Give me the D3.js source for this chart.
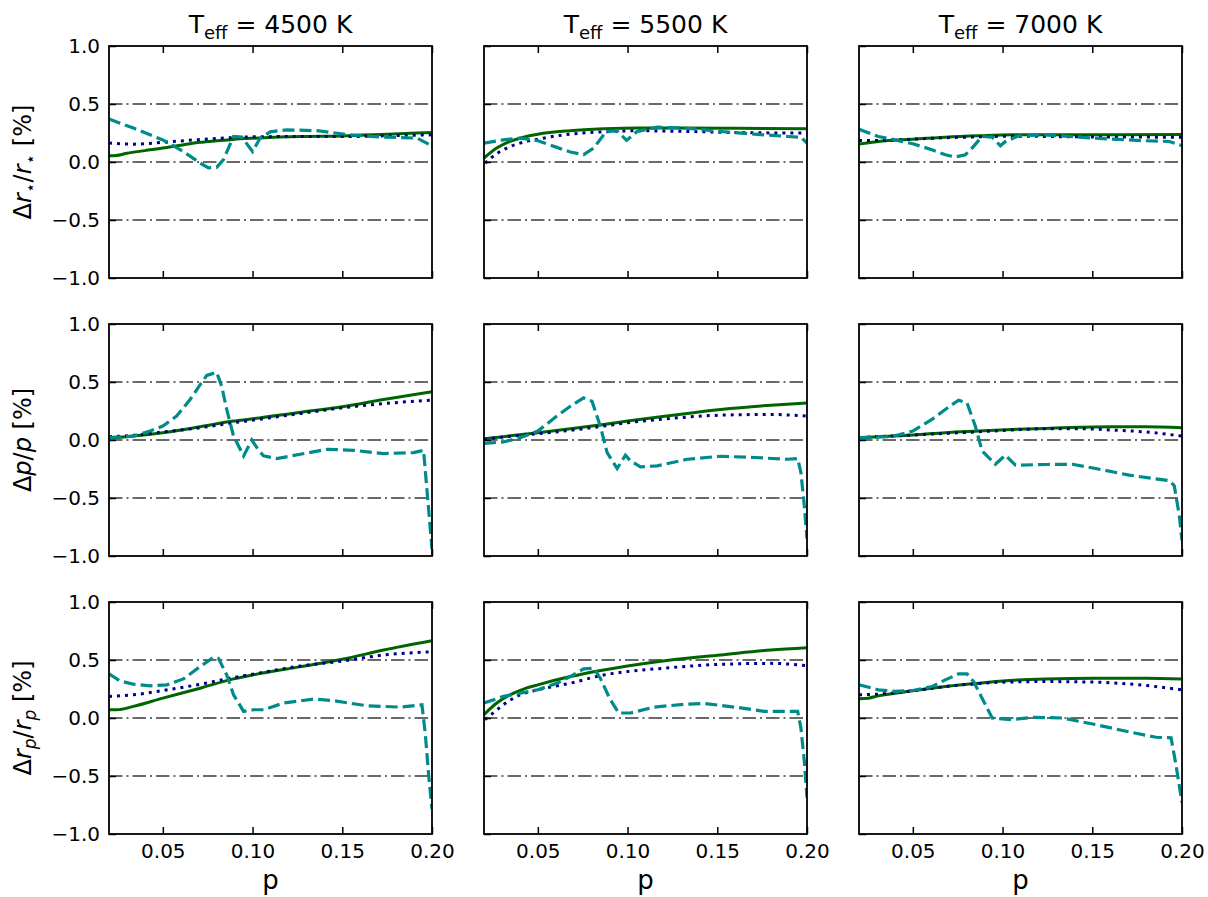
<!DOCTYPE html>
<html>
<head>
<meta charset="utf-8">
<script src="https://cdn.jsdelivr.net/npm/d3@7"></script>
<style>
body { margin: 0; background: #fff; }
text { font-family: "DejaVu Sans", sans-serif; fill: #000; }
</style>
</head>
<body>
<svg id="chart" width="1208" height="897"></svg>
<script>

// Column headings / ticks
var temps = [4500, 5500, 7000];
var xTicks = [0.05, 0.10, 0.15, 0.20];
var yTicks = [-1.0, -0.5, 0.0, 0.5, 1.0];
var refLines = [-0.5, 0.0, 0.5];

// Row 0 : Δr*/r*
var rs4500_solid = [[0.02,0.054],[0.024,0.056],[0.03,0.075],[0.04,0.098],[0.05,0.12],[0.06,0.145],[0.071,0.17],[0.08,0.183],[0.089,0.195],[0.10,0.205],[0.115,0.215],[0.127,0.22],[0.15,0.225],[0.175,0.24],[0.20,0.254]];
var rs4500_dot   = [[0.02,0.163],[0.034,0.154],[0.05,0.17],[0.071,0.194],[0.089,0.21],[0.10,0.217],[0.127,0.22],[0.154,0.22],[0.182,0.229],[0.20,0.234]];
var rs4500_dash  = [[0.02,0.371],[0.034,0.29],[0.05,0.19],[0.0615,0.09],[0.0708,-0.01],[0.0754,-0.05],[0.080,-0.046],[0.0838,0.02],[0.0894,0.22],[0.094,0.215],[0.10,0.09],[0.104,0.2],[0.1098,0.26],[0.119,0.277],[0.1358,0.27],[0.1544,0.234],[0.173,0.214],[0.1916,0.206],[0.20,0.14]];

var rs5500_solid = [[0.02,0.034],[0.0271,0.12],[0.0345,0.177],[0.042,0.214],[0.05,0.24],[0.068,0.27],[0.0867,0.286],[0.1053,0.294],[0.124,0.294],[0.161,0.29],[0.20,0.286]];
var rs5500_dot   = [[0.0206,-0.01],[0.0243,0.04],[0.0308,0.106],[0.0401,0.163],[0.05,0.197],[0.068,0.24],[0.0867,0.26],[0.1053,0.269],[0.124,0.266],[0.161,0.254],[0.20,0.249]];
var rs5500_dash  = [[0.02,0.163],[0.0308,0.19],[0.0401,0.206],[0.05,0.183],[0.0606,0.126],[0.0681,0.086],[0.0755,0.063],[0.0811,0.12],[0.088,0.26],[0.094,0.27],[0.0995,0.186],[0.1053,0.263],[0.1165,0.30],[0.1333,0.291],[0.1519,0.263],[0.1706,0.24],[0.1892,0.22],[0.1966,0.214],[0.20,0.163]];

var rs7000_solid = [[0.02,0.154],[0.0308,0.177],[0.05,0.197],[0.068,0.214],[0.0867,0.226],[0.1053,0.234],[0.1426,0.234],[0.20,0.237]];
var rs7000_dot   = [[0.02,0.186],[0.0308,0.186],[0.05,0.197],[0.068,0.209],[0.0867,0.217],[0.1053,0.223],[0.1426,0.217],[0.20,0.214]];
var rs7000_dash  = [[0.02,0.283],[0.0308,0.22],[0.0401,0.191],[0.05,0.157],[0.0606,0.106],[0.0681,0.063],[0.0737,0.043],[0.0793,0.063],[0.083,0.12],[0.0886,0.22],[0.0942,0.214],[0.0988,0.14],[0.1016,0.177],[0.109,0.226],[0.124,0.234],[0.1426,0.214],[0.1612,0.197],[0.1799,0.183],[0.193,0.177],[0.20,0.14]];

// Row 1 : Δp/p
var p4500_solid = [[0.02,0.017],[0.0336,0.034],[0.05,0.063],[0.0708,0.114],[0.0894,0.163],[0.10,0.183],[0.127,0.24],[0.15,0.286],[0.173,0.349],[0.20,0.417]];
var p4500_dot   = [[0.02,0.029],[0.0336,0.04],[0.05,0.069],[0.0708,0.106],[0.0894,0.149],[0.10,0.171],[0.127,0.229],[0.15,0.277],[0.173,0.314],[0.20,0.343]];
var p4500_dash  = [[0.02,0.02],[0.0336,0.034],[0.0429,0.077],[0.05,0.12],[0.0577,0.206],[0.0652,0.349],[0.0708,0.477],[0.0745,0.557],[0.080,0.583],[0.0828,0.463],[0.0856,0.263],[0.0894,0.034],[0.095,-0.137],[0.0996,0.0],[0.1024,-0.066],[0.1061,-0.137],[0.1135,-0.16],[0.1266,-0.123],[0.1414,-0.08],[0.1563,-0.089],[0.173,-0.117],[0.1897,-0.109],[0.1953,-0.089],[0.20,-0.94]];

var p5500_solid = [[0.02,0.011],[0.0308,0.029],[0.05,0.063],[0.0681,0.097],[0.0867,0.134],[0.10,0.163],[0.124,0.211],[0.1519,0.263],[0.1799,0.30],[0.20,0.32]];
var p5500_dot   = [[0.02,0.006],[0.0308,0.026],[0.05,0.054],[0.0681,0.083],[0.0867,0.12],[0.10,0.149],[0.124,0.186],[0.1519,0.214],[0.1799,0.22],[0.20,0.206]];
var p5500_dash  = [[0.02,-0.029],[0.0308,-0.017],[0.0401,0.02],[0.05,0.077],[0.0606,0.206],[0.0681,0.291],[0.0755,0.363],[0.0802,0.334],[0.0848,0.12],[0.0886,-0.109],[0.0942,-0.246],[0.0988,-0.131],[0.1016,-0.18],[0.1072,-0.231],[0.1165,-0.223],[0.1333,-0.166],[0.1519,-0.14],[0.1706,-0.151],[0.1892,-0.166],[0.1948,-0.16],[0.1966,-0.28],[0.1985,-0.566],[0.20,-0.851]];

var p7000_solid = [[0.02,0.02],[0.0308,0.029],[0.05,0.043],[0.0681,0.063],[0.0867,0.077],[0.1053,0.091],[0.124,0.1],[0.1426,0.109],[0.1612,0.114],[0.1799,0.114],[0.20,0.106]];
var p7000_dot   = [[0.02,0.02],[0.0308,0.029],[0.05,0.043],[0.0681,0.057],[0.0867,0.071],[0.1053,0.086],[0.124,0.097],[0.1426,0.097],[0.1612,0.086],[0.1799,0.069],[0.20,0.034]];
var p7000_dash  = [[0.02,0.02],[0.0383,0.029],[0.05,0.077],[0.0606,0.177],[0.0681,0.263],[0.0755,0.343],[0.0802,0.32],[0.0848,0.12],[0.0886,-0.094],[0.096,-0.209],[0.1016,-0.131],[0.1072,-0.217],[0.124,-0.211],[0.1389,-0.209],[0.1519,-0.246],[0.1706,-0.303],[0.193,-0.351],[0.1957,-0.394],[0.1985,-0.651],[0.20,-0.866]];

// Row 2 : Δrp/rp
var rp4500_solid = [[0.02,0.071],[0.0243,0.071],[0.0336,0.1],[0.05,0.171],[0.0708,0.257],[0.0894,0.337],[0.10,0.371],[0.127,0.443],[0.15,0.506],[0.173,0.586],[0.20,0.666]];
var rp4500_dot   = [[0.02,0.186],[0.0336,0.2],[0.05,0.237],[0.0708,0.291],[0.0894,0.349],[0.10,0.377],[0.127,0.449],[0.15,0.491],[0.173,0.543],[0.20,0.571]];
var rp4500_dash  = [[0.02,0.38],[0.0261,0.32],[0.0336,0.291],[0.0429,0.277],[0.0522,0.286],[0.0615,0.337],[0.0708,0.443],[0.0782,0.523],[0.081,0.514],[0.0856,0.371],[0.0894,0.2],[0.095,0.057],[0.1005,0.071],[0.1061,0.071],[0.1173,0.129],[0.134,0.163],[0.1451,0.149],[0.1637,0.106],[0.1823,0.094],[0.1944,0.114],[0.1963,-0.143],[0.1981,-0.486],[0.20,-0.786]];

var rp5500_solid = [[0.02,0.029],[0.0271,0.129],[0.0345,0.2],[0.042,0.249],[0.05,0.286],[0.0681,0.357],[0.0867,0.414],[0.10,0.449],[0.124,0.5],[0.1519,0.543],[0.1799,0.586],[0.20,0.606]];
var rp5500_dot   = [[0.0206,-0.014],[0.0243,0.034],[0.0308,0.114],[0.0401,0.2],[0.05,0.243],[0.0681,0.3],[0.0867,0.371],[0.10,0.4],[0.124,0.434],[0.1519,0.463],[0.1799,0.471],[0.20,0.451]];
var rp5500_dash  = [[0.02,0.129],[0.0308,0.186],[0.0401,0.214],[0.05,0.243],[0.0606,0.3],[0.0681,0.357],[0.0755,0.423],[0.0811,0.429],[0.0848,0.343],[0.0904,0.157],[0.0951,0.043],[0.1016,0.043],[0.1147,0.094],[0.1333,0.12],[0.1426,0.126],[0.1612,0.091],[0.1761,0.057],[0.1948,0.057],[0.1966,-0.086],[0.1985,-0.371],[0.20,-0.686]];

var rp7000_solid = [[0.02,0.166],[0.0252,0.171],[0.0308,0.191],[0.05,0.234],[0.0681,0.271],[0.0867,0.3],[0.10,0.32],[0.124,0.337],[0.1519,0.343],[0.1799,0.343],[0.20,0.337]];
var rp7000_dot   = [[0.02,0.2],[0.0308,0.206],[0.05,0.234],[0.0681,0.271],[0.0867,0.297],[0.10,0.309],[0.124,0.314],[0.1519,0.309],[0.1799,0.28],[0.20,0.243]];
var rp7000_dash  = [[0.02,0.286],[0.0308,0.243],[0.0401,0.229],[0.05,0.237],[0.0606,0.271],[0.0681,0.329],[0.0755,0.38],[0.0802,0.38],[0.0839,0.314],[0.0886,0.171],[0.0942,0.0],[0.1053,-0.014],[0.1165,0.006],[0.1333,0.0],[0.1519,-0.057],[0.1706,-0.12],[0.1855,-0.166],[0.1939,-0.171],[0.1966,-0.4],[0.20,-0.729]];

// Grid of panels, row by row
var grid = [
    [[rs4500_solid, rs4500_dot, rs4500_dash], [rs5500_solid, rs5500_dot, rs5500_dash], [rs7000_solid, rs7000_dot, rs7000_dash]],
    [[p4500_solid, p4500_dot, p4500_dash], [p5500_solid, p5500_dot, p5500_dash], [p7000_solid, p7000_dot, p7000_dash]],
    [[rp4500_solid, rp4500_dot, rp4500_dash], [rp5500_solid, rp5500_dot, rp5500_dash], [rp7000_solid, rp7000_dot, rp7000_dash]]
];

// y-labels: pieces of text (i = italic, s = subscript)
var yLabels = [
    [{t:"Δ"},{t:"r",i:1},{t:"⋆",s:1},{t:"/"},{t:"r",i:1},{t:"⋆",s:1},{t:" [%]"}],
    [{t:"Δ"},{t:"p",i:1},{t:"/"},{t:"p",i:1},{t:" [%]"}],
    [{t:"Δ"},{t:"r",i:1},{t:"p",i:1,s:1},{t:"/"},{t:"r",i:1},{t:"p",i:1,s:1},{t:" [%]"}]
];

var W = 323, H = 232;
var x0 = 109, dxCol = 375;
var y0 = 46, dyRow = 278;

var svg = d3.select("#chart");
svg.append("rect").attr("width", 1208).attr("height", 897).attr("fill", "#fff");

var fmtY = function(d){ return d3.format(".1f")(d).replace("-", "\u2212"); };
var fmtX = d3.format(".2f");

var styles = [
    {color: "#006400", width: 3,   dash: null,   curve: d3.curveMonotoneX},
    {color: "#00008b", width: 3,   dash: "3,5",  curve: d3.curveMonotoneX},
    {color: "#008b8b", width: 3.2, dash: "12,5", curve: d3.curveLinear}
];

grid.forEach(function(row, r){
    row.forEach(function(series, c){
        var left = x0 + c*dxCol, top = y0 + r*dyRow;
        var x = d3.scaleLinear().domain([0.02, 0.20]).range([0, W]);
        var y = d3.scaleLinear().domain([-1, 1]).range([H, 0]);

        var g = svg.append("g").attr("transform", "translate(" + left + "," + top + ")");
        var clipId = "clip" + r + c;
        g.append("clipPath").attr("id", clipId)
            .append("rect").attr("width", W).attr("height", H);

        var plot = g.append("g").attr("clip-path", "url(#" + clipId + ")");

        // reference dash-dot lines
        plot.selectAll("line.ref").data(refLines).enter().append("line")
            .attr("x1", 0).attr("x2", W)
            .attr("y1", function(d){ return y(d); })
            .attr("y2", function(d){ return y(d); })
            .attr("stroke", "#6a6a6a")
            .attr("stroke-width", 1.8)
            .attr("stroke-dasharray", "13.5,4,2,4");

        // the three curves
        series.forEach(function(pts, k){
            var st = styles[k];
            var line = d3.line()
                .x(function(d){ return x(d[0]); })
                .y(function(d){ return y(d[1]); })
                .curve(st.curve);
            plot.append("path")
                .attr("d", line(pts))
                .attr("fill", "none")
                .attr("stroke", st.color)
                .attr("stroke-width", st.width)
                .attr("stroke-dasharray", st.dash);
        });

        // axes, ticks pointing in
        var bottom = d3.axisBottom(x).tickValues(xTicks).tickSizeInner(-7).tickSizeOuter(0).tickPadding(10)
            .tickFormat(r === 2 ? fmtX : function(){ return ""; });
        var topAx = d3.axisTop(x).tickValues(xTicks).tickSizeInner(-7).tickSizeOuter(0).tickFormat(function(){ return ""; });
        var leftAx = d3.axisLeft(y).tickValues(yTicks).tickSizeInner(-7).tickSizeOuter(0).tickPadding(9)
            .tickFormat(c === 0 ? fmtY : function(){ return ""; });

        [[bottom, "translate(0," + H + ")"], [topAx, null], [leftAx, null]].forEach(function(a){
            var ag = g.append("g").attr("transform", a[1]).call(a[0]);
            ag.attr("font-size", 20).attr("font-family", "DejaVu Sans");
            ag.select(".domain").remove();
            ag.selectAll(".tick line").attr("stroke", "#000").attr("stroke-width", 1.5);
        });

        // frame
        g.append("rect").attr("width", W).attr("height", H)
            .attr("fill", "none").attr("stroke", "#000").attr("stroke-width", 1.8);

        // column title
        if(r === 0){
            var t = g.append("text").attr("x", W/2).attr("y", -13)
                .attr("text-anchor", "middle").attr("font-size", 25);
            t.append("tspan").text("T");
            t.append("tspan").attr("dy", 6).attr("font-size", 18).text("eff");
            t.append("tspan").attr("dy", -6).text(" = " + temps[c] + " K");
        }

        // x label
        if(r === 2){
            g.append("text").attr("x", W/2).attr("y", H + 55)
                .attr("text-anchor", "middle").attr("font-size", 26).text("p");
        }

        // y label
        if(c === 0){
            var yl = svg.append("text")
                .attr("transform", "translate(31," + (top + H/2) + ") rotate(-90)")
                .attr("text-anchor", "middle").attr("font-size", 24);
            var shift = 0;
            yLabels[r].forEach(function(p){
                var ts = yl.append("tspan").text(p.t);
                if(p.i) ts.attr("font-style", "italic");
                if(p.s && !shift){ ts.attr("dy", 5).attr("font-size", 17); shift = 1; }
                else if(p.s){ ts.attr("font-size", 17); }
                else if(shift){ ts.attr("dy", -5); shift = 0; }
            });
        }
    });
});

</script>
</body>
</html>
